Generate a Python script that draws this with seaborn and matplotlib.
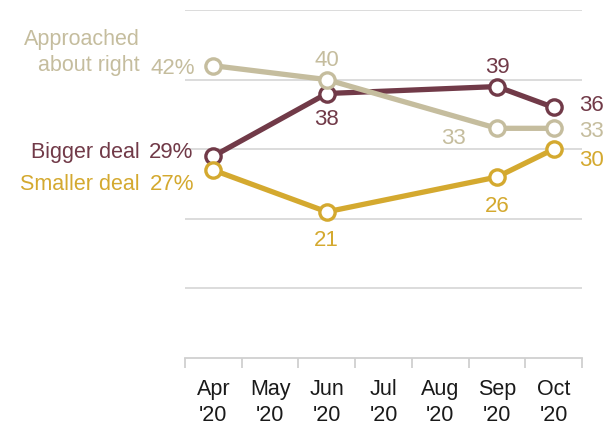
import matplotlib
matplotlib.use("Agg")
import matplotlib.pyplot as plt
import seaborn as sns
import pandas as pd

# Survey waves (month index 0 = Apr '20)
months = ["Apr\n'20", "May\n'20", "Jun\n'20", "Jul\n'20", "Aug\n'20", "Sep\n'20", "Oct\n'20"]
wave_x = [0, 2, 5, 6]

approached = [42, 40, 33, 33]
bigger = [29, 38, 39, 36]
smaller = [27, 21, 26, 30]

series_names = ["Bigger deal", "Smaller deal", "Approached\nabout right"]
series_values = [bigger, smaller, approached]
colors = ["#713A48", "#D4A92F", "#C5BD9E"]

sns.set_theme(style="white")
plt.rcParams["font.family"] = ["Liberation Sans", "DejaVu Sans"]

fig = plt.figure(figsize=(6.12, 4.26), dpi=100)
ax = fig.add_axes([185 / 612, 68 / 426, 397 / 612, 348 / 426])

FS = 15.5
NFS = 16
for name, vals, col in zip(series_names, series_values, colors):
    df = pd.DataFrame({"month": wave_x, "value": vals})
    sns.lineplot(data=df, x="month", y="value", ax=ax, color=col, linewidth=3.8,
                 marker="o", markersize=11, markerfacecolor="white",
                 markeredgecolor=col, markeredgewidth=2.4, zorder=3)

ax.set_xlim(-0.5, 6.5)
ax.set_ylim(0, 50)
ax.set_xlabel("")
ax.set_ylabel("")

# horizontal gridlines
ax.set_yticks([10, 20, 30, 40, 50])
ax.set_yticklabels([])
ax.tick_params(axis="y", length=0)
ax.grid(axis="y", color="#D9D9D9", linewidth=1.3, zorder=0)
ax.grid(axis="x", visible=False)

# month ticks at the boundaries between months
ax.set_xticks(range(7))
ax.set_xticklabels(months, fontsize=FS, color="#1a1a1a", linespacing=1.3)
ax.set_xticks([i - 0.5 for i in range(8)], minor=True)
ax.tick_params(axis="x", which="major", length=0, pad=15)
ax.tick_params(axis="x", which="minor", length=7, width=1.3, color="#D0D0D0", bottom=True)

for s in ["top", "right", "left"]:
    ax.spines[s].set_visible(False)
ax.spines["bottom"].set_color("#D0D0D0")
ax.spines["bottom"].set_linewidth(1.3)

def lab(x, y, text, col, dx, dy, ha="center", va="center", size=NFS, ls=1.2):
    ax.annotate(text, (x, y), xytext=(dx, dy - 3), textcoords="offset pixels",
                ha=ha, va=va, fontsize=size, color=col, annotation_clip=False,
                linespacing=ls)

cb, cs, ca = colors

# start-of-series labels
lab(0, approached[0], "42%", ca, -18, 0, ha="right")
lab(0, approached[0], "Approached\nabout right", ca, -74, 16, ha="right", size=FS, ls=1.3)
lab(0, bigger[0], "29%", cb, -20, 7, ha="right")
lab(0, bigger[0], "Bigger deal", cb, -74, 7, ha="right", size=FS)
lab(0, smaller[0], "27%", cs, -19, -11, ha="right")
lab(0, smaller[0], "Smaller deal", cs, -74, -11, ha="right", size=FS)

# mid-series values
lab(2, approached[1], "40", ca, 0, 22)
lab(2, bigger[1], "38", cb, 0, -23)
lab(2, smaller[1], "21", cs, 0, -26)
lab(5, bigger[2], "39", cb, 0, 22)
lab(5, approached[2], "33", ca, -43, -7)
lab(5, smaller[2], "26", cs, 0, -26)

# end-of-series values
lab(6, bigger[3], "36", cb, 25, 5, ha="left")
lab(6, approached[3], "33", ca, 25, 0, ha="left")
lab(6, smaller[3], "30", cs, 25, -8, ha="left")

fig.savefig("out.png", dpi=100, facecolor="white")
